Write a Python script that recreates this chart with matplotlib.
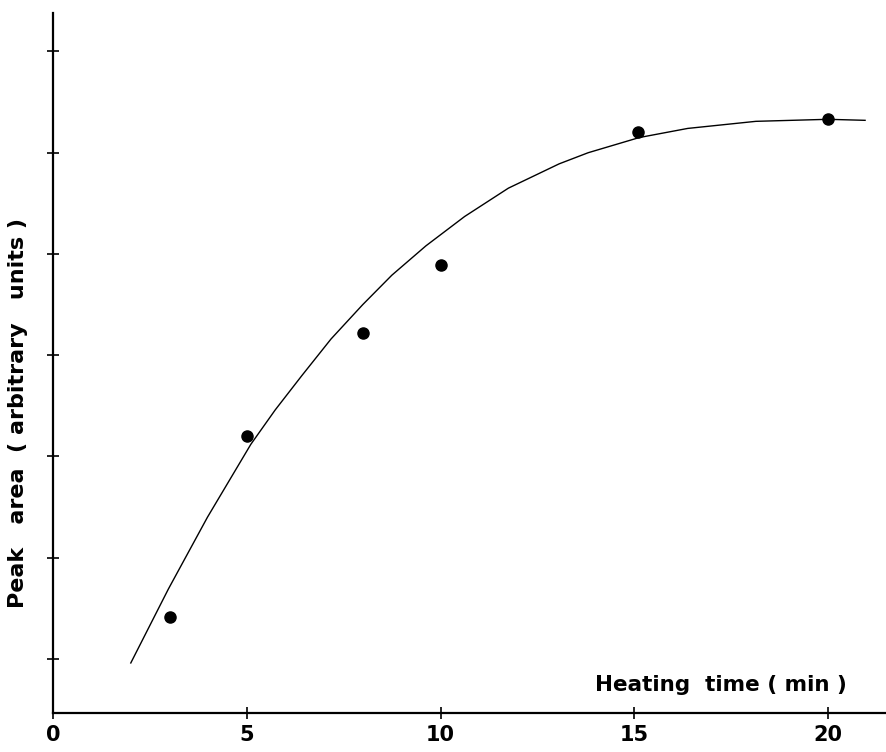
import matplotlib
matplotlib.use("Agg")
import matplotlib.pyplot as plt

# Measured points
time_pts = [3, 5, 8, 10, 15.1, 20]
area_pts = [1.41, 3.20, 4.22, 4.89, 6.20, 6.33]

# Fitted curve
curve_t = [2.00, 2.97, 3.98, 5.10, 5.73, 6.42, 7.17, 7.99, 8.74, 9.62,
           10.62, 11.75, 13.06, 13.81, 15.13, 16.38, 18.14, 20.00, 20.96]
curve_v = [0.96, 1.69, 2.40, 3.12, 3.46, 3.80, 4.16, 4.50, 4.79, 5.08,
           5.37, 5.65, 5.89, 6.00, 6.15, 6.24, 6.31, 6.33, 6.32]

x_ticks = [0, 5, 10, 15, 20]
x_tick_labels = ["0", "5", "10", "15", "20"]
y_ticks = [1, 2, 3, 4, 5, 6, 7]

fig = plt.figure(figsize=(8.86, 7.52), dpi=100)
ax = fig.add_axes([0.0602, 0.0519, 0.9398, 0.9308])

ax.plot(curve_t, curve_v, color="black", lw=1.0, solid_joinstyle="round")
ax.plot(time_pts, area_pts, "o", color="black", ms=8)

ax.set_xlim(0, 21.5)
ax.set_ylim(0.466, 7.38)

for s in ["top", "right"]:
    ax.spines[s].set_visible(False)
for s in ["left", "bottom"]:
    ax.spines[s].set_linewidth(1.6)

ax.set_xticks(x_ticks)
ax.set_xticklabels(x_tick_labels, fontsize=15, fontweight="bold")
ax.set_yticks(y_ticks)
ax.set_yticklabels([])
ax.tick_params(axis="both", direction="inout", length=8, width=1.2)
ax.tick_params(axis="x", pad=5)

ax.text(0.953, 0.04, "Heating  time ( min )", transform=ax.transAxes,
        ha="right", va="center", fontsize=15.5, fontweight="bold")

fig.text(18 / 886, 1 - 413 / 752, "Peak   area  ( arbitrary   units )",
         rotation=90, ha="center", va="center", fontsize=16, fontweight="bold")

fig.savefig("out.png", dpi=100)
